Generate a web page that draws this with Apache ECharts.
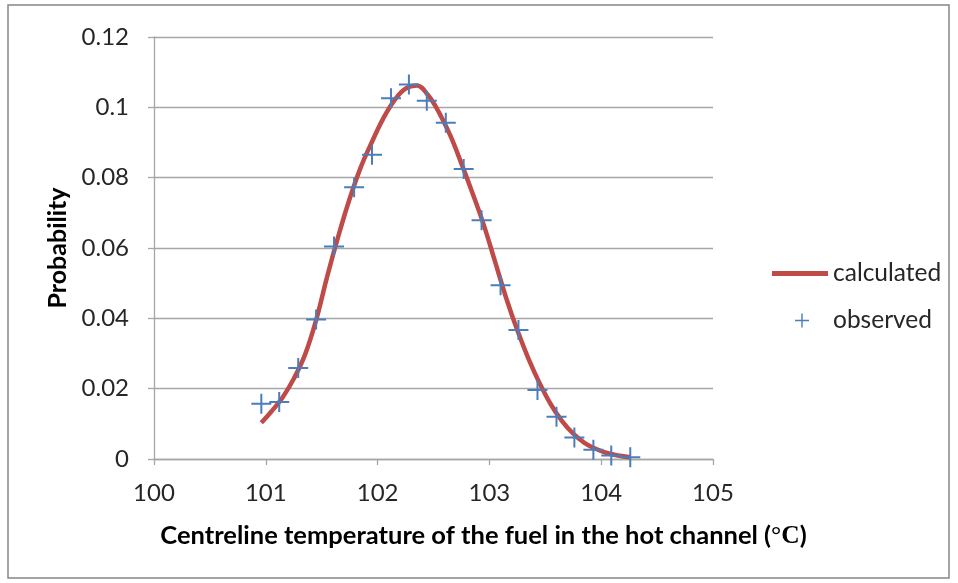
<!DOCTYPE html>
<html>
<head>
<meta charset="utf-8">
<script src="https://cdn.jsdelivr.net/npm/echarts@6/dist/echarts.min.js"></script>
<style>
  html, body { margin: 0; padding: 0; background: #ffffff; }
  #chart { width: 958px; height: 583px; }
</style>
</head>
<body>
<div id="chart"></div>
<script>
// Observed centreline temperatures (°C) and their probabilities
var observedTemp = [100.96, 101.12, 101.29, 101.45, 101.61, 101.79, 101.95, 102.12, 102.28, 102.44, 102.61,
                    102.77, 102.93, 103.10, 103.26, 103.43, 103.60, 103.76, 103.93, 104.09, 104.26];
var observedProb = [0.0157, 0.0162, 0.0259, 0.0397, 0.0604, 0.0773, 0.0865, 0.1026, 0.1065, 0.1019, 0.0956,
                    0.0825, 0.0679, 0.0494, 0.0367, 0.0196, 0.0120, 0.0061, 0.0026, 0.0010, 0.0005];

// Calculated probability curve
var calcTemp = [100.96, 101.05, 101.15, 101.25, 101.35, 101.45, 101.55, 101.65, 101.75, 101.85, 101.95,
                102.05, 102.15, 102.25, 102.35, 102.45, 102.55, 102.65, 102.75, 102.85, 102.95, 103.05,
                103.15, 103.25, 103.35, 103.45, 103.55, 103.65, 103.75, 103.85, 103.95, 104.05, 104.15, 104.26];
var calcProb = [0.0103, 0.0135, 0.0175, 0.0228, 0.0296, 0.0395, 0.0520, 0.0635, 0.0740, 0.0830, 0.0902,
                0.0968, 0.1020, 0.1053, 0.1062, 0.1035, 0.0985, 0.0920, 0.0840, 0.0755, 0.0665, 0.0562,
                0.0458, 0.0366, 0.0285, 0.0215, 0.0155, 0.0108, 0.0072, 0.0046, 0.0029, 0.0017, 0.0010, 0.0005];

// Axis ranges
var xMin = 100, xMax = 105, xStep = 1;
var yMin = 0, yMax = 0.12, yStep = 0.02;

function pairs(xs, ys) {
  return xs.map(function (x, i) { return [x, ys[i]]; });
}

var FONT = 'Lato, "Open Sans", sans-serif';
var RED = '#be4b48';
var BLUE = '#4a7ebb';
var GRID = '#a6a6a6';
var TXT = '#262626';
var PLUS = 'path://M9,0h2v9h9v2h-9v9h-2v-9h-9v-2h9z';
var BAR = 'path://M0,0h56v5h-56z';

var chart = echarts.init(document.getElementById('chart'), null, { renderer: 'canvas' });

chart.setOption({
  backgroundColor: '#ffffff',
  animation: false,
  graphic: [{
    type: 'rect',
    shape: { x: 8, y: 5, width: 941, height: 573 },
    style: { fill: 'none', stroke: '#878787', lineWidth: 1.5 },
    silent: true
  }],
  grid: { left: 154, right: 245, top: 37, bottom: 124, containLabel: false },
  xAxis: {
    type: 'value',
    min: xMin, max: xMax, interval: xStep,
    name: '{a|Centreline temperature of the fuel in the hot channel (}{b|°C}{a|)}',
    nameLocation: 'middle',
    nameGap: 64,
    nameTextStyle: {
      padding: [0, 0, 0, 100],
      rich: {
        a: { fontFamily: FONT, fontWeight: 'bold', fontSize: 25.5, color: '#000000' },
        b: { fontFamily: '"Liberation Serif", "DejaVu Serif", serif', fontWeight: 'bold', fontSize: 25.5, color: '#000000' }
      }
    },
    axisLine: { onZero: false, lineStyle: { color: GRID, width: 1.3 } },
    axisTick: { show: true, inside: false, length: 6, lineStyle: { color: GRID, width: 1.3 } },
    axisLabel: { fontFamily: FONT, fontSize: 24, color: TXT, margin: 22 },
    splitLine: { show: false }
  },
  yAxis: {
    type: 'value',
    min: yMin, max: yMax, interval: yStep,
    name: 'Probability',
    nameLocation: 'middle',
    nameRotate: 90,
    nameGap: 75,
    nameTextStyle: { fontFamily: FONT, fontWeight: 'bold', fontSize: 25, color: '#000000' },
    axisLine: { show: true, lineStyle: { color: GRID, width: 1.3 } },
    axisTick: { show: true, inside: false, length: 6, lineStyle: { color: GRID, width: 1.3 } },
    axisLabel: { fontFamily: FONT, fontSize: 24, color: TXT, margin: 25 },
    splitLine: { show: true, lineStyle: { color: GRID, width: 1.3 } }
  },
  legend: [{
    orient: 'vertical',
    left: 767, top: 256,
    itemWidth: 56, itemHeight: 5, itemGap: 5,
    data: [{ name: 'calculated', icon: BAR }],
    textStyle: { fontFamily: FONT, fontSize: 24.5, color: TXT },
    selectedMode: false
  }, {
    orient: 'vertical',
    left: 790, top: 303,
    itemWidth: 14, itemHeight: 14, itemGap: 5,
    data: [{ name: 'observed', icon: PLUS }],
    textStyle: { fontFamily: FONT, fontSize: 24.5, color: TXT, padding: [0, 0, 0, 19] },
    selectedMode: false
  }],
  series: [{
    name: 'calculated',
    type: 'line',
    data: pairs(calcTemp, calcProb),
    smooth: 0.4,
    symbol: 'none',
    lineStyle: { color: RED, width: 4.5 },
    itemStyle: { color: RED },
    z: 2
  }, {
    name: 'observed',
    type: 'scatter',
    data: pairs(observedTemp, observedProb),
    symbol: PLUS,
    symbolSize: 20,
    itemStyle: { color: BLUE, opacity: 1 },
    z: 3
  }]
});
</script>
</body>
</html>
